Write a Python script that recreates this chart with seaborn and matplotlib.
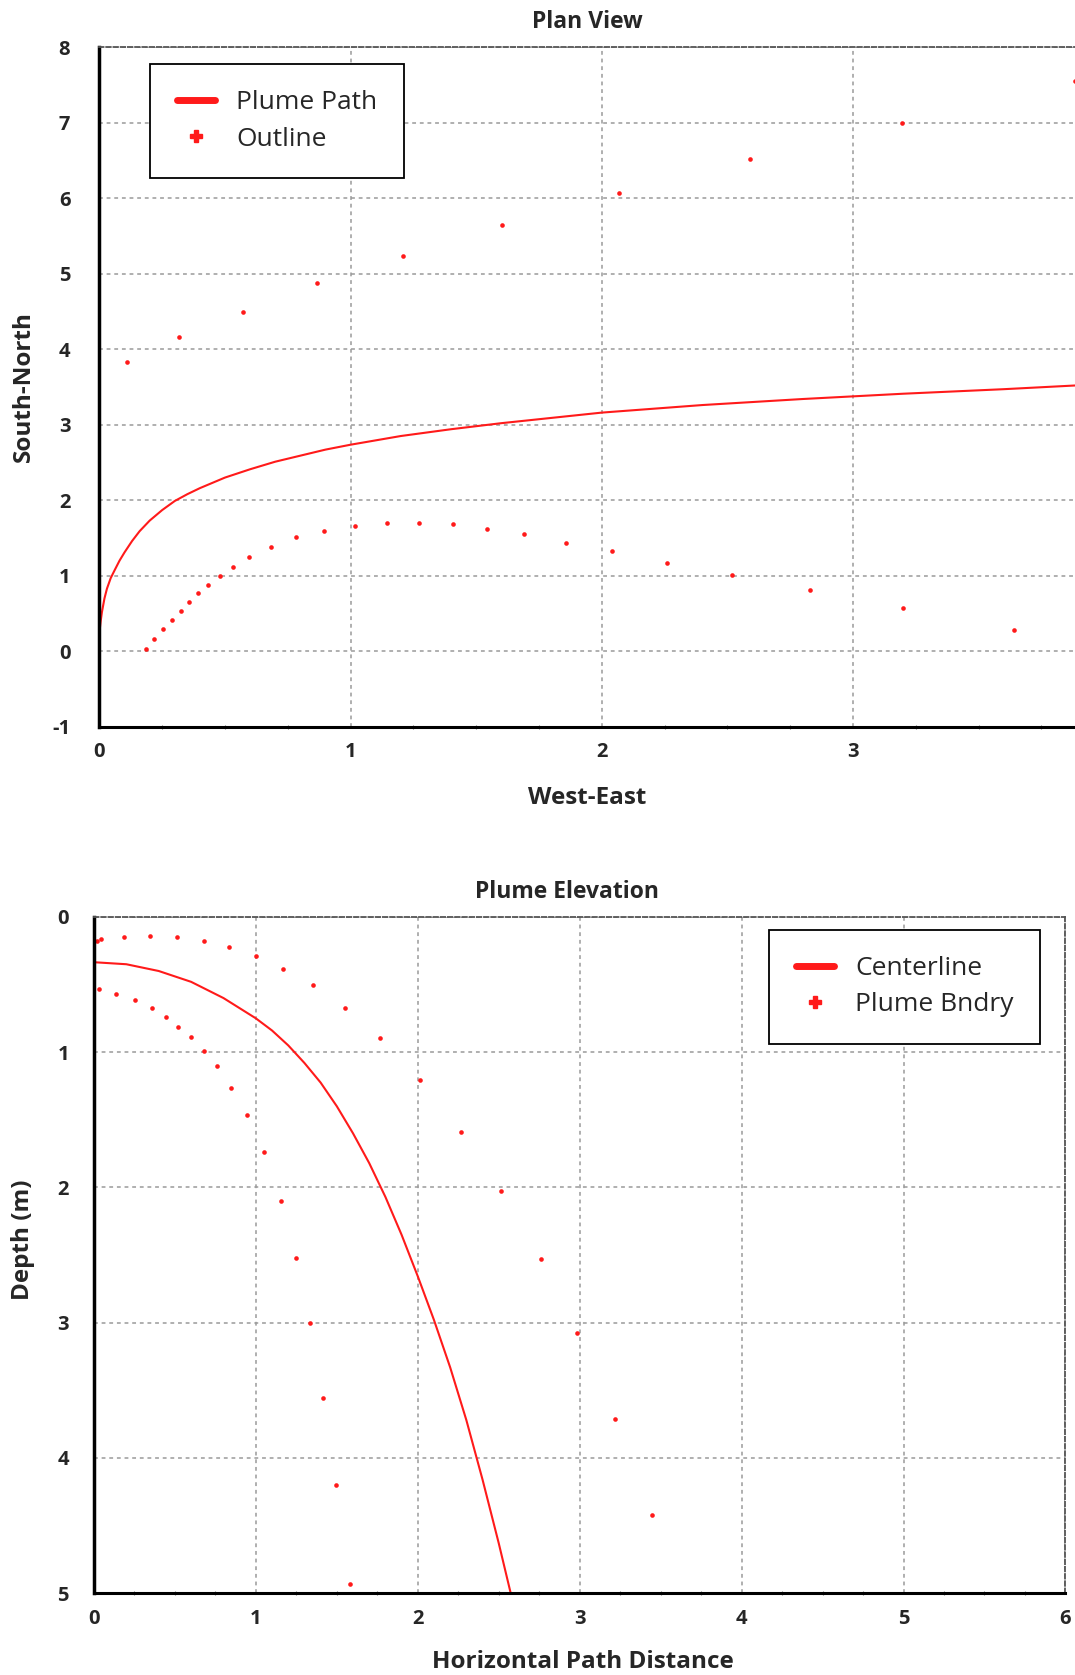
import numpy as np
import pandas as pd
import matplotlib
matplotlib.use("Agg")
import matplotlib.pyplot as plt
import seaborn as sns
from matplotlib.lines import Line2D
from matplotlib.ticker import MultipleLocator

# ---------------- Plan View data ----------------
path_x = [0.0, 0.005, 0.01, 0.02, 0.03, 0.045, 0.06, 0.08, 0.1, 0.13, 0.16, 0.2, 0.25,
          0.3, 0.35, 0.4, 0.5, 0.6, 0.7, 0.8, 0.9, 1.0, 1.2, 1.4, 1.6, 1.8, 2.0, 2.4,
          2.8, 3.2, 3.6, 3.89]
path_y = [0.25, 0.40, 0.52, 0.70, 0.83, 0.97, 1.07, 1.20, 1.31, 1.46, 1.59, 1.73, 1.87,
          1.99, 2.08, 2.16, 2.30, 2.41, 2.51, 2.59, 2.67, 2.735, 2.85, 2.94, 3.02, 3.09,
          3.16, 3.26, 3.34, 3.41, 3.47, 3.52]

outline_upper_x = [0.111, 0.317, 0.571, 0.865, 1.209, 1.602, 2.067, 2.59, 3.196, 3.884]
outline_upper_y = [3.824, 4.16, 4.497, 4.87, 5.24, 5.645, 6.064, 6.516, 7.0, 7.545]

outline_lower_x = [0.184, 0.217, 0.253, 0.288, 0.324, 0.358, 0.393, 0.434, 0.480, 0.531,
                   0.597, 0.683, 0.784, 0.895, 1.018, 1.143, 1.273, 1.406, 1.542, 1.689,
                   1.857, 2.039, 2.26, 2.52, 2.83, 3.201, 3.643]
outline_lower_y = [0.03, 0.165, 0.30, 0.42, 0.53, 0.65, 0.765, 0.88, 1.0, 1.117,
                   1.248, 1.383, 1.513, 1.596, 1.665, 1.70, 1.70, 1.683, 1.617, 1.552,
                   1.44, 1.327, 1.174, 1.007, 0.806, 0.569, 0.285]

plan_xticks = [0, 1, 2, 3]
plan_yticks = [-1, 0, 1, 2, 3, 4, 5, 6, 7, 8]

# ---------------- Plume Elevation data ----------------
center_x = [0.0, 0.2, 0.4, 0.6, 0.8, 1.0, 1.1, 1.2, 1.3, 1.4, 1.5, 1.6, 1.7, 1.8, 1.9,
            2.0, 2.1, 2.2, 2.3, 2.4, 2.5, 2.574]
center_d = [0.335, 0.35, 0.40, 0.48, 0.60, 0.75, 0.84, 0.95, 1.08, 1.225, 1.40, 1.60,
            1.82, 2.07, 2.35, 2.657, 2.98, 3.33, 3.72, 4.16, 4.63, 5.0]

bndry_upper_x = [0.021, 0.045, 0.185, 0.349, 0.513, 0.677, 0.834, 0.998, 1.168, 1.355,
                 1.553, 1.764, 2.013, 2.27, 2.513, 2.759, 2.983, 3.22, 3.447]
bndry_upper_d = [0.177, 0.167, 0.15, 0.14, 0.15, 0.177, 0.226, 0.29, 0.384, 0.507,
                 0.674, 0.898, 1.205, 1.589, 2.03, 2.53, 3.074, 3.714, 4.425]

bndry_lower_x = [0.032, 0.138, 0.255, 0.357, 0.443, 0.519, 0.598, 0.677, 0.762, 0.849,
                 0.943, 1.051, 1.155, 1.247, 1.332, 1.417, 1.497, 1.583]
bndry_lower_d = [0.534, 0.571, 0.617, 0.674, 0.738, 0.814, 0.888, 0.991, 1.102, 1.264,
                 1.461, 1.739, 2.103, 2.524, 3.0, 3.56, 4.2, 4.93]

elev_xticks = [0, 1, 2, 3, 4, 5, 6]
elev_yticks = [0, 1, 2, 3, 4, 5]

# ---------------- styling ----------------
sns.set_theme(style="white")
plt.rcParams["font.family"] = ["Open Sans", "DejaVu Sans"]
plt.rcParams["axes.unicode_minus"] = False

RED = "#ff1a1a"
GRID = "#9a9a9a"
TICK_FS = 14.5
LABEL_FS = 17.5
TITLE_FS = 16.5

fig = plt.figure(figsize=(10.75, 16.75), dpi=100)
ax1 = fig.add_axes([0.0925, 0.5661, 0.9075, 0.4058])
ax2 = fig.add_axes([0.0874, 0.0488, 0.9037, 0.4038])

plan_outline = pd.DataFrame({"x": outline_upper_x + outline_lower_x,
                             "y": outline_upper_y + outline_lower_y})
elev_bndry = pd.DataFrame({"x": bndry_upper_x + bndry_lower_x,
                           "d": bndry_upper_d + bndry_lower_d})

sns.lineplot(x=path_x, y=path_y, sort=False, estimator=None, color=RED, lw=1.5, ax=ax1)
sns.scatterplot(data=plan_outline, x="x", y="y", color=RED, s=11, linewidth=0, ax=ax1)

sns.lineplot(x=center_x, y=center_d, sort=False, estimator=None, color=RED, lw=1.5, ax=ax2)
sns.scatterplot(data=elev_bndry, x="x", y="d", color=RED, s=11, linewidth=0, ax=ax2)

ax1.set_xlim(0, 3.884)
ax1.set_ylim(-1, 8)
ax2.set_xlim(0, 6)
ax2.set_ylim(5, 0)

ax1.set_xticks(plan_xticks)
ax1.set_yticks(plan_yticks)
ax2.set_xticks(elev_xticks)
ax2.set_yticks(elev_yticks)

for ax in (ax1, ax2):
    ax.set_axisbelow(True)
    ax.grid(True, which="major", color=GRID, lw=1.1, ls=(0, (2.5, 2.5)))
    ax.xaxis.set_minor_locator(MultipleLocator(0.25))
    ax.tick_params(axis="both", which="major", length=0, labelsize=TICK_FS)
    ax.tick_params(axis="x", which="major", pad=11)
    ax.tick_params(axis="x", which="minor", length=3, width=0.8, color="#777777",
                   direction="inout", bottom=True)
    for lab in ax.get_xticklabels() + ax.get_yticklabels():
        lab.set_fontweight("bold")
    ax.spines["left"].set_color("black")
    ax.spines["left"].set_linewidth(2.5)
    ax.spines["bottom"].set_color("black")
    ax.spines["bottom"].set_linewidth(2.2)
    ax.spines["top"].set_color("#555555")
    ax.spines["top"].set_linewidth(1.3)
    ax.spines["top"].set_linestyle((0, (2.5, 1.5)))

ax1.tick_params(axis="y", which="major", pad=21)
ax2.tick_params(axis="y", which="major", pad=18)
ax1.spines["right"].set_visible(False)
ax2.spines["right"].set_color("#555555")
ax2.spines["right"].set_linewidth(1.3)
ax2.spines["right"].set_linestyle((0, (2.5, 1.5)))

# titles / labels
ax1.set_title("Plan View", fontsize=TITLE_FS, fontweight="bold", x=0.5, y=1.0368, va="center", pad=0)
ax1.set_xlabel("West-East", fontsize=LABEL_FS, fontweight="bold")
ax1.xaxis.set_label_coords(0.5, -0.1049)
ax1.xaxis.label.set_va("center")
ax1.set_ylabel("South-North", fontsize=LABEL_FS, fontweight="bold")
ax1.yaxis.set_label_coords(-0.0774, 0.5)
ax1.yaxis.label.set_va("center")

ax2.set_title("Plume Elevation", fontsize=TITLE_FS, fontweight="bold", x=0.487, y=1.0368, va="center", pad=0)
ax2.set_xlabel("Horizontal Path Distance", fontsize=LABEL_FS, fontweight="bold")
ax2.xaxis.set_label_coords(0.503, -0.1016)
ax2.xaxis.label.set_va("center")
ax2.set_ylabel("Depth (m)", fontsize=LABEL_FS, fontweight="bold")
ax2.yaxis.set_label_coords(-0.0726, 0.522)
ax2.yaxis.label.set_va("center")

# legends
def make_legend(ax, labels, loc, anchor):
    handles = [Line2D([], [], color=RED, lw=5),
               Line2D([], [], color=RED, marker="P", ls="none", markersize=8)]
    leg = ax.legend(handles, labels, loc=loc, bbox_to_anchor=anchor, borderaxespad=0,
                    frameon=True, fancybox=False, edgecolor="black", framealpha=1,
                    fontsize=19, handlelength=1.45, handletextpad=0.8, borderpad=1.0,
                    labelspacing=0.42)
    leg.get_frame().set_linewidth(1.3)
    return leg

make_legend(ax1, ["Plume Path", "Outline"], "upper left", (0.0523, 0.975))
make_legend(ax2, ["Centerline", "Plume Bndry"], "upper right", (0.9739, 0.9806))

fig.savefig("out.png", dpi=100)
